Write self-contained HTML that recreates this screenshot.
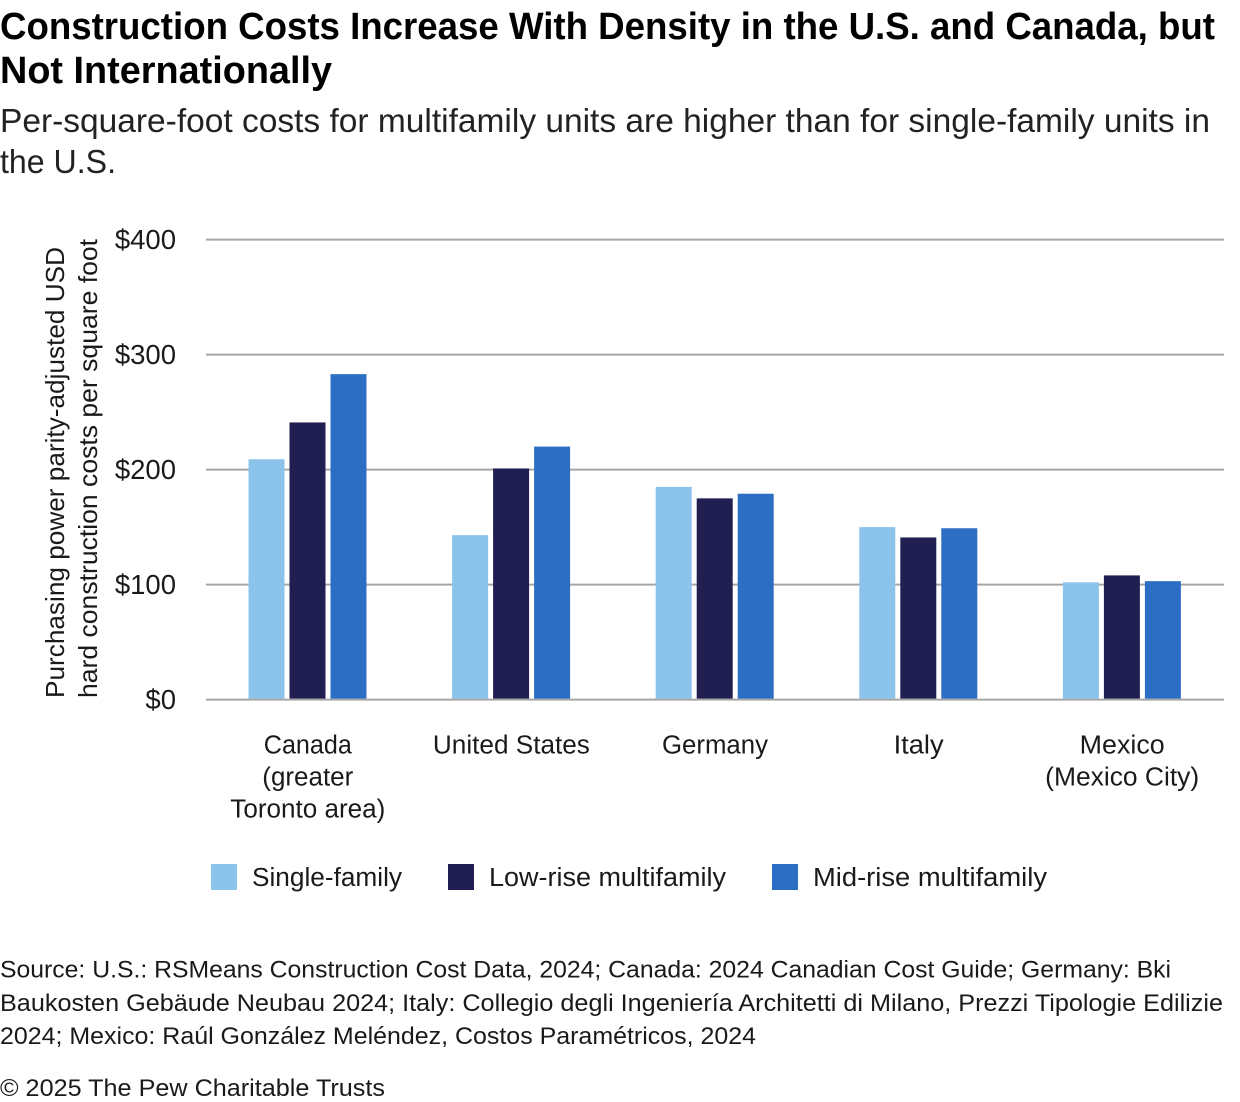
<!DOCTYPE html>
<html lang="en">
<head>
<meta charset="utf-8">
<title>Construction Costs Increase With Density</title>
<style>
html,body{margin:0;padding:0;background:#fff;width:1240px;height:1102px;overflow:hidden}
svg{display:block}
text{font-family:"Liberation Sans",Arial,sans-serif;fill:#1a1a1a}
</style>
</head>
<body>
<svg id="chart" xmlns="http://www.w3.org/2000/svg" width="1240" height="1102" viewBox="0 0 1240 1102">
  <g font-weight="700" font-size="38" style="font-weight:700">
    <text x="0" y="39" textLength="1215" lengthAdjust="spacingAndGlyphs" style="fill:#000">Construction Costs Increase With Density in the U.S. and Canada, but</text>
    <text x="0" y="83" textLength="332" lengthAdjust="spacingAndGlyphs" style="fill:#000">Not Internationally</text>
  </g>
  <g font-size="33">
    <text x="0" y="132" textLength="1210" lengthAdjust="spacingAndGlyphs" style="fill:#222">Per-square-foot costs for multifamily units are higher than for single-family units in</text>
    <text x="0" y="173" textLength="116" lengthAdjust="spacingAndGlyphs" style="fill:#222">the U.S.</text>
  </g>
  <g font-size="26">
    <text transform="translate(64,698) rotate(-90)" textLength="451" lengthAdjust="spacingAndGlyphs">Purchasing power parity-adjusted USD</text>
    <text transform="translate(97,698) rotate(-90)" textLength="459" lengthAdjust="spacingAndGlyphs">hard construction costs per square foot</text>
  </g>
  <g id="grid"></g>
  <g id="yticks"></g>
  <g id="bars"></g>
  <g id="xticks"></g>
  <g id="legend"></g>
  <g font-size="24.5">
    <text x="0" y="977.5" textLength="1171" lengthAdjust="spacingAndGlyphs">Source: U.S.: RSMeans Construction Cost Data, 2024; Canada: 2024 Canadian Cost Guide; Germany: Bki</text>
    <text x="0" y="1011" textLength="1223" lengthAdjust="spacingAndGlyphs">Baukosten Gebäude Neubau 2024; Italy: Collegio degli Ingeniería Architetti di Milano, Prezzi Tipologie Edilizie</text>
    <text x="0" y="1044" textLength="756" lengthAdjust="spacingAndGlyphs">2024; Mexico: Raúl González Meléndez, Costos Paramétricos, 2024</text>
  </g>
  <text x="0" y="1096" font-size="24.5" textLength="385" lengthAdjust="spacingAndGlyphs">© 2025 The Pew Charitable Trusts</text>
</svg>
<script>
const categories = [["Canada", "(greater", "Toronto area)"], ["United States"], ["Germany"], ["Italy"], ["Mexico", "(Mexico City)"]];
const categoryWidths = [[88, 91, 155], [157], [106], [50], [85, 154]];
const seriesNames = ["Single-family", "Low-rise multifamily", "Mid-rise multifamily"];
const singleFamily = [209, 143, 185, 150, 102];
const lowRise = [241, 201, 175, 141, 108];
const midRise = [283, 220, 179, 149, 103];
const yTicks = [0, 100, 200, 300, 400];
const tickLabels = ["$0", "$100", "$200", "$300", "$400"];

const NS = "http://www.w3.org/2000/svg";
const series = [singleFamily, lowRise, midRise];
const colors = ["#8cc3eb", "#211f52", "#2b6ec4"];
const plotLeft = 206, plotRight = 1224, zeroY = 699.6, pxPerUnit = 1.15;
const yScale = v => zeroY - v * pxPerUnit;
const band = (plotRight - plotLeft) / categories.length;
const xCenter = i => plotLeft + band * (i + 0.5);

function make(tag, attrs, parent, content) {
  const el = document.createElementNS(NS, tag);
  for (const k in attrs) el.setAttribute(k, attrs[k]);
  if (content !== undefined) el.textContent = content;
  parent.appendChild(el);
  return el;
}

const grid = document.getElementById("grid");
const yticks = document.getElementById("yticks");
yTicks.forEach((t, i) => {
  const line = make("line", {x1: plotLeft, x2: plotRight, y1: yScale(t), y2: yScale(t), stroke: "#a6a6a6", "stroke-width": 2}, grid);
  
  
  const label = make("text", {x: 176, y: yScale(t) + 9.5, "text-anchor": "end", "font-size": 27.5}, yticks, tickLabels[i]);
  
  
});

const bars = document.getElementById("bars");
const barWidth = 36, barStep = 41;
series.forEach((values, s) => {
  values.forEach((v, i) => {
    const x = xCenter(i) + (s - 1) * barStep - barWidth / 2 - 0.3;
    const rect = make("rect", {x: x, y: yScale(v), width: barWidth, height: zeroY - 1 - yScale(v), fill: colors[s]}, bars);
    
    
  });
});

const xticks = document.getElementById("xticks");
categories.forEach((lines, i) => {
  lines.forEach((line, j) => {
    const label = make("text", {x: xCenter(i), y: 753.5 + j * 32, "text-anchor": "middle", "font-size": 25.5, textLength: categoryWidths[i][j], lengthAdjust: "spacingAndGlyphs"}, xticks, line);
    
    
  });
});

const legend = document.getElementById("legend");
const swatchX = [211, 448, 772];
const legendWidths = [150, 237, 234];
seriesNames.forEach((name, s) => {
  const swatch = make("rect", {x: swatchX[s], y: 864, width: 26, height: 26, fill: colors[s]}, legend);
  
  
  const label = make("text", {x: swatchX[s] + 41, y: 886, "font-size": 25.5, textLength: legendWidths[s], lengthAdjust: "spacingAndGlyphs"}, legend, name);
  
  
});
</script>
</body>
</html>
